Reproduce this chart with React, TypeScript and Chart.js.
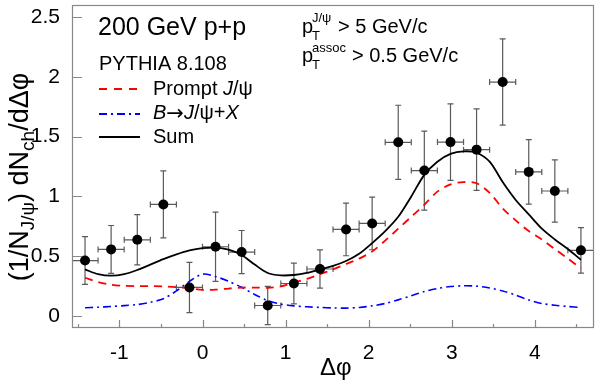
import React, { useEffect, useRef } from 'react';
import { Chart, registerables } from 'chart.js';

Chart.register(...registerables);

// ---- data ----
const binCenters = [-1.414, -1.100, -0.785, -0.471, -0.157, 0.157, 0.471, 0.785, 1.100, 1.414, 1.728, 2.042, 2.356, 2.670, 2.985, 3.299, 3.613, 3.927, 4.241, 4.555];
const yieldValues = [0.464, 0.557, 0.637, 0.933, 0.239, 0.579, 0.535, 0.088, 0.272, 0.393, 0.724, 0.774, 1.452, 1.216, 1.454, 1.391, 1.956, 1.205, 1.045, 0.549];
const yieldErrors = [0.20, 0.20, 0.21, 0.28, 0.21, 0.29, 0.18, 0.16, 0.17, 0.16, 0.22, 0.22, 0.31, 0.33, 0.32, 0.34, 0.36, 0.27, 0.26, 0.19];
const binHalfWidths = [0.157, 0.157, 0.157, 0.157, 0.157, 0.157, 0.157, 0.157, 0.157, 0.157, 0.157, 0.157, 0.157, 0.157, 0.157, 0.157, 0.157, 0.157, 0.157, 0.157];

const curveX = [-1.414, -1.257, -1.100, -0.942, -0.785, -0.628, -0.471, -0.314, -0.157, 0.000, 0.157, 0.314, 0.471, 0.628, 0.785, 0.942, 1.100, 1.257, 1.414, 1.571, 1.728, 1.885, 2.042, 2.199, 2.356, 2.513, 2.670, 2.827, 2.985, 3.142, 3.299, 3.456, 3.613, 3.770, 3.927, 4.084, 4.241, 4.398, 4.555];
const sumCurve = [0.39, 0.35, 0.337, 0.35, 0.385, 0.43, 0.475, 0.515, 0.548, 0.567, 0.572, 0.555, 0.51, 0.43, 0.36, 0.34, 0.343, 0.36, 0.39, 0.42, 0.46, 0.52, 0.61, 0.71, 0.83, 1.0, 1.18, 1.29, 1.355, 1.377, 1.365, 1.29, 1.12, 0.97, 0.85, 0.73, 0.64, 0.56, 0.47];
const promptCurve = [0.32, 0.285, 0.262, 0.252, 0.25, 0.25, 0.248, 0.242, 0.232, 0.218, 0.22, 0.23, 0.238, 0.238, 0.236, 0.248, 0.28, 0.31, 0.35, 0.39, 0.435, 0.48, 0.54, 0.63, 0.73, 0.83, 0.93, 1.04, 1.10, 1.12, 1.11, 1.03, 0.9, 0.80, 0.71, 0.64, 0.56, 0.48, 0.40];
const bCurve = [0.069, 0.074, 0.08, 0.087, 0.096, 0.115, 0.145, 0.21, 0.29, 0.35, 0.33, 0.29, 0.24, 0.18, 0.13, 0.10, 0.085, 0.077, 0.072, 0.068, 0.066, 0.072, 0.085, 0.105, 0.135, 0.17, 0.205, 0.23, 0.247, 0.253, 0.25, 0.235, 0.21, 0.175, 0.135, 0.105, 0.09, 0.08, 0.072];

const xTickValues = [-1, 0, 1, 2, 3, 4];
const xMinorTickValues = [-1.5, -0.5, 0.5, 1.5, 2.5, 3.5, 4.5];
const yTickValues = [0, 0.5, 1, 1.5, 2, 2.5];
const xMin = -1.5708;
const xMax = 4.7124;
const yMin = -0.1;
const yMax = 2.6;

const FONT = '"Liberation Sans", Arial, Helvetica, sans-serif';
const SYMFONT = '"DejaVu Sans", sans-serif';

type Seg = { t: string; size: number; dy?: number; italic?: boolean; family?: string };

function segFont(s: Seg) {
  return `${s.italic ? 'italic ' : ''}${s.size}px ${s.family || FONT}`;
}

function drawSegs(ctx: CanvasRenderingContext2D, x: number, y: number, segs: Seg[]) {
  let cx = x;
  for (const s of segs) {
    ctx.font = segFont(s);
    ctx.fillText(s.t, cx, y + (s.dy || 0));
    cx += ctx.measureText(s.t).width;
  }
  return cx - x;
}

function measureSegs(ctx: CanvasRenderingContext2D, segs: Seg[]) {
  let w = 0;
  for (const s of segs) {
    ctx.font = segFont(s);
    w += ctx.measureText(s.t).width;
  }
  return w;
}

const overlay = {
  id: 'overlay',
  beforeDatasetsDraw(chart: any) {
    const { ctx, chartArea: a, scales } = chart;
    const xs = scales.x, ys = scales.y;
    ctx.save();
    ctx.beginPath();
    ctx.rect(a.left, a.top, a.right - a.left, a.bottom - a.top);
    ctx.clip();
    ctx.strokeStyle = '#5a5a5a';
    ctx.lineWidth = 1.2;
    const cap = 3;
    binCenters.forEach((xv, i) => {
      const px = xs.getPixelForValue(xv);
      const py = ys.getPixelForValue(yieldValues[i]);
      const pTop = ys.getPixelForValue(yieldValues[i] + yieldErrors[i]);
      const pBot = ys.getPixelForValue(yieldValues[i] - yieldErrors[i]);
      const pL = xs.getPixelForValue(xv - binHalfWidths[i]);
      const pR = xs.getPixelForValue(xv + binHalfWidths[i]);
      ctx.beginPath();
      ctx.moveTo(px, pTop); ctx.lineTo(px, pBot);
      ctx.moveTo(px - cap, pTop); ctx.lineTo(px + cap, pTop);
      ctx.moveTo(px - cap, pBot); ctx.lineTo(px + cap, pBot);
      ctx.moveTo(pL, py); ctx.lineTo(pR, py);
      ctx.moveTo(pL, py - cap); ctx.lineTo(pL, py + cap);
      ctx.moveTo(pR, py - cap); ctx.lineTo(pR, py + cap);
      ctx.stroke();
    });
    ctx.restore();
  },
  afterDraw(chart: any) {
    const { ctx, chartArea: a, scales } = chart;
    const xs = scales.x, ys = scales.y;
    ctx.save();
    // frame
    ctx.strokeStyle = '#888';
    ctx.lineWidth = 1.2;
    ctx.strokeRect(a.left + 0.5, a.top + 0.5, a.right - a.left - 1, a.bottom - a.top - 1);
    // ticks
    ctx.beginPath();
    xTickValues.forEach(v => {
      const px = Math.round(xs.getPixelForValue(v)) + 0.5;
      ctx.moveTo(px, a.bottom); ctx.lineTo(px, a.bottom - 8);
    });
    xMinorTickValues.forEach(v => {
      const px = Math.round(xs.getPixelForValue(v)) + 0.5;
      ctx.moveTo(px, a.bottom); ctx.lineTo(px, a.bottom - 4);
    });
    yTickValues.forEach(v => {
      const py = Math.round(ys.getPixelForValue(v)) + 0.5;
      ctx.moveTo(a.left, py); ctx.lineTo(a.left + 10, py);
    });
    ctx.stroke();

    ctx.fillStyle = '#000';
    ctx.textBaseline = 'alphabetic';
    ctx.textAlign = 'left';

    // annotation texts
    drawSegs(ctx, 98, 35, [{ t: '200 GeV p+p', size: 25 }]);
    drawSegs(ctx, 99, 70, [{ t: 'PYTHIA 8.108', size: 20 }]);

    drawSegs(ctx, 302, 33, [{ t: 'p', size: 20 }]);
    drawSegs(ctx, 312, 22, [{ t: 'J/ψ', size: 13 }]);
    drawSegs(ctx, 312, 40, [{ t: 'T', size: 13 }]);
    drawSegs(ctx, 338, 33, [{ t: '> 5 GeV/c', size: 20 }]);

    drawSegs(ctx, 302, 62, [{ t: 'p', size: 20 }]);
    drawSegs(ctx, 312, 52, [{ t: 'assoc', size: 13 }]);
    drawSegs(ctx, 312, 69, [{ t: 'T', size: 13 }]);
    drawSegs(ctx, 352, 62, [{ t: '> 0.5 GeV/c', size: 20 }]);

    // legend
    const lx0 = 99, lx1 = 140;
    ctx.lineWidth = 1.8;
    ctx.strokeStyle = '#ff0000';
    ctx.setLineDash([8, 7]);
    ctx.beginPath(); ctx.moveTo(lx0, 89); ctx.lineTo(lx1, 89); ctx.stroke();
    ctx.strokeStyle = '#0000ff';
    ctx.setLineDash([8, 4, 2, 4]);
    ctx.beginPath(); ctx.moveTo(lx0, 114); ctx.lineTo(lx1, 114); ctx.stroke();
    ctx.strokeStyle = '#000';
    ctx.setLineDash([]);
    ctx.beginPath(); ctx.moveTo(lx0, 137); ctx.lineTo(lx1, 137); ctx.stroke();

    drawSegs(ctx, 153, 95, [{ t: 'Prompt ', size: 20 }, { t: 'J', size: 20, italic: true }, { t: '/ψ', size: 20 }]);
    drawSegs(ctx, 153, 119, [
      { t: 'B', size: 20, italic: true }, { t: '→', size: 21, family: SYMFONT, dy: 1 }, { t: 'J', size: 20, italic: true },
      { t: '/ψ+', size: 20 }, { t: 'X', size: 20, italic: true },
    ]);
    drawSegs(ctx, 153, 143, [{ t: 'Sum', size: 20 }]);

    // x title
    drawSegs(ctx, 320, 375, [{ t: 'Δφ', size: 24 }]);

    // y title (rotated)
    const ySegs: Seg[] = [
      { t: '(1/N', size: 27 }, { t: 'J/ψ', size: 19, dy: 6 }, { t: ') dN', size: 27 },
      { t: 'ch', size: 19, dy: 6 }, { t: '/dΔφ', size: 27 },
    ];
    const w = measureSegs(ctx, ySegs);
    ctx.save();
    ctx.translate(28, 177);
    ctx.rotate(-Math.PI / 2);
    drawSegs(ctx, -w / 2, 0, ySegs);
    ctx.restore();

    ctx.restore();
  },
};

export default function App() {
  const ref = useRef<HTMLCanvasElement>(null);
  useEffect(() => {
    document.body.style.margin = '0';
    const canvas = ref.current!;
    const chart = new Chart(canvas, {
      type: 'scatter',
      data: {
        datasets: [
          {
            label: 'Data',
            data: binCenters.map((x, i) => ({ x, y: yieldValues[i] })),
            pointRadius: 5,
            pointBackgroundColor: '#000',
            pointBorderWidth: 0,
            showLine: false,
          },
          {
            label: 'Sum',
            data: curveX.map((x, i) => ({ x, y: sumCurve[i] })),
            showLine: true,
            borderColor: '#000',
            borderWidth: 1.8,
            pointRadius: 0,
            tension: 0.3,
            fill: false,
          },
          {
            label: 'Prompt J/ψ',
            data: curveX.map((x, i) => ({ x, y: promptCurve[i] })),
            showLine: true,
            borderColor: '#ff0000',
            borderWidth: 1.8,
            borderDash: [8, 6],
            pointRadius: 0,
            tension: 0.3,
            fill: false,
          },
          {
            label: 'B→J/ψ+X',
            data: curveX.map((x, i) => ({ x, y: bCurve[i] })),
            showLine: true,
            borderColor: '#0000ff',
            borderWidth: 1.6,
            borderDash: [8, 4, 2, 4],
            pointRadius: 0,
            tension: 0.3,
            fill: false,
          },
        ],
      } as any,
      options: {
        responsive: false,
        animation: false,
        devicePixelRatio: 1,
        layout: { padding: { top: 1, right: 2, left: 0, bottom: 0 } },
        plugins: { legend: { display: false }, tooltip: { enabled: false } },
        scales: {
          x: {
            type: 'linear',
            min: xMin,
            max: xMax,
            grid: { display: false },
            border: { display: false },
            ticks: {
              color: '#000',
              font: { family: FONT, size: 21 },
              padding: 5,
              callback: (v: any) => String(v),
            },
            afterBuildTicks: (s: any) => { s.ticks = xTickValues.map(v => ({ value: v })); },
            afterFit: (s: any) => { s.height = 55; s.paddingLeft = 0; s.paddingRight = 0; },
          },
          y: {
            type: 'linear',
            min: yMin,
            max: yMax,
            grid: { display: false },
            border: { display: false },
            ticks: {
              color: '#000',
              font: { family: FONT, size: 21 },
              padding: 4,
              callback: (v: any) => String(v),
            },
            afterBuildTicks: (s: any) => { s.ticks = yTickValues.map(v => ({ value: v })); },
            afterFit: (s: any) => { s.width = 72; s.paddingTop = 0; s.paddingBottom = 0; },
          },
        },
      } as any,
      plugins: [overlay],
    });
    return () => chart.destroy();
  }, []);
  return <canvas ref={ref} width={599} height={383} style={{ display: 'block' }} />;
}
